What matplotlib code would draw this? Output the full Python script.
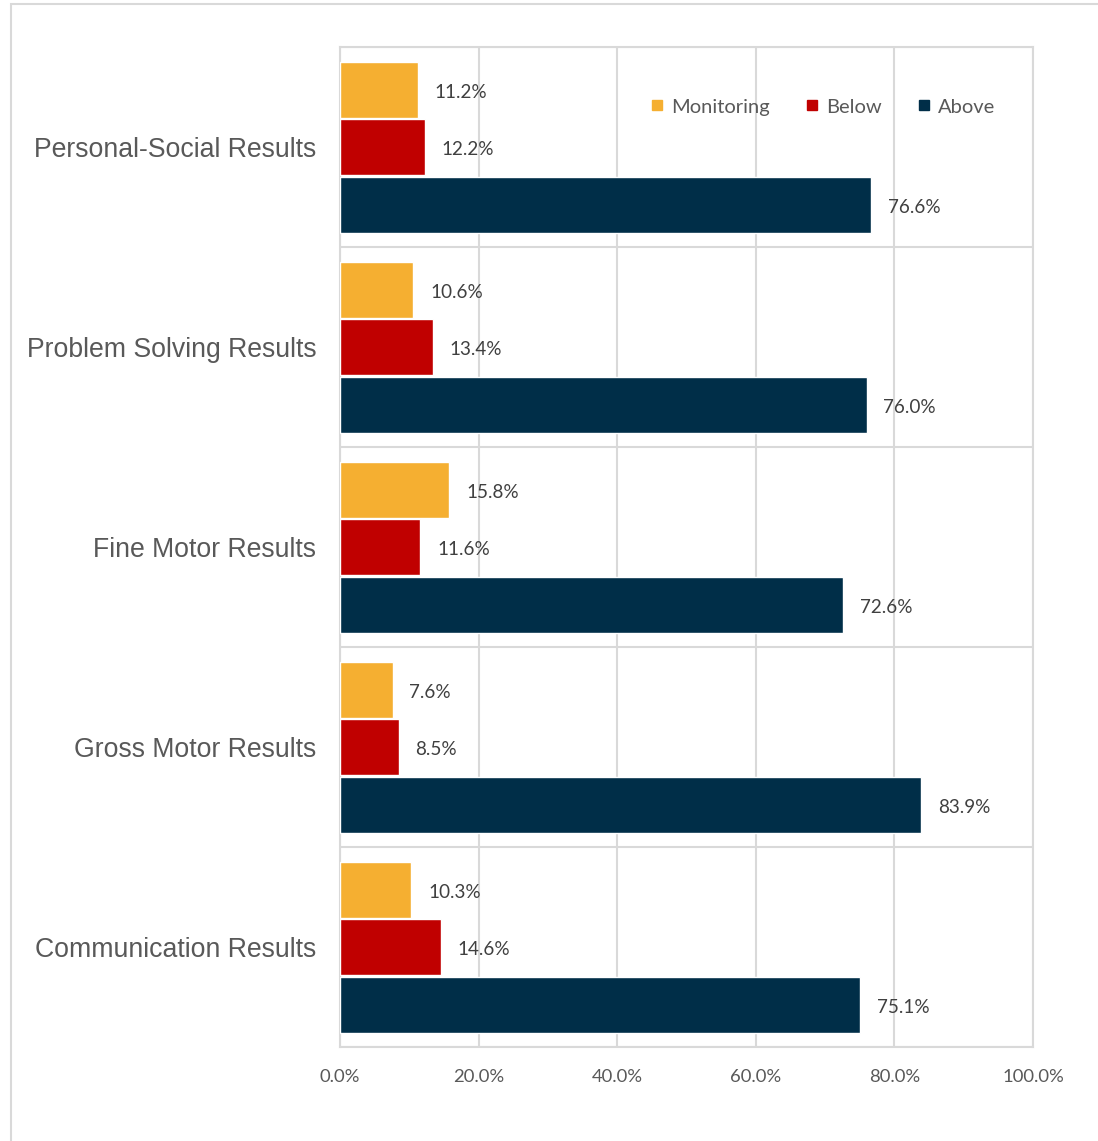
import matplotlib.pyplot as plt
from matplotlib.lines import Line2D
from matplotlib.patches import Rectangle
import numpy as np

categories = ['Personal-Social Results', 'Problem Solving Results', 'Fine Motor Results',
              'Gross Motor Results', 'Communication Results']
series_names = ['Monitoring', 'Below', 'Above']
monitoring = [11.2, 10.6, 15.8, 7.6, 10.3]
below = [12.2, 13.4, 11.6, 8.5, 14.6]
above = [76.6, 76.0, 72.6, 83.9, 75.1]
colors = ['#F5AF31', '#C00000', '#002E48']
x_ticks = [0, 20, 40, 60, 80, 100]

grid_color = '#D9D9D9'
text_color = '#595959'
label_font = 'Lato'

fig = plt.figure(figsize=(10.98, 11.41), dpi=100)
fig.patches.append(Rectangle((11 / 1098, -0.1), 1.2, (1141 - 4) / 1141 + 0.1,
                             transform=fig.transFigure, fill=False,
                             edgecolor=grid_color, linewidth=1.5))

ax = fig.add_axes([340 / 1098, 1 - 1047 / 1141, (1033 - 340) / 1098, 1000 / 1141])

y = np.arange(len(categories))
offset = 0.2875
bar_h = 0.28
for k, (vals, col) in enumerate(zip([monitoring, below, above], colors)):
    pos = y + (k - 1) * offset
    ax.barh(pos, vals, height=bar_h, color=col, edgecolor='white', linewidth=1.0, zorder=3)
    for p, v in zip(pos, vals):
        ax.annotate(f'{v:.1f}%', (v, p), xytext=(12, -2), textcoords='offset points',
                    ha='left', va='center', fontsize=13.6, color='#404040',
                    family=label_font, zorder=4)

ax.set_xlim(0, 100)
ax.set_ylim(len(categories) - 0.5, -0.5)
ax.set_xticks(x_ticks)
ax.set_xticklabels([f'{t:.1f}%' for t in x_ticks], family=label_font, fontsize=13.3, color=text_color)
ax.set_yticks(y)
ax.set_yticklabels(categories, family='Liberation Sans', fontsize=19.2, color=text_color)
ax.set_yticks(np.arange(len(categories) + 1) - 0.5, minor=True)
ax.tick_params(axis='both', which='both', length=0)
ax.tick_params(axis='y', pad=17)
ax.tick_params(axis='x', pad=16)

ax.grid(axis='x', which='major', color=grid_color, linewidth=1.5, zorder=0)
ax.grid(axis='y', which='minor', color=grid_color, linewidth=1.5, zorder=0)
for s in ax.spines.values():
    s.set_color(grid_color)
    s.set_linewidth(1.5)

handles = [Line2D([], [], marker='s', linestyle='none', markersize=7.5, color=c) for c in colors]
leg = ax.legend(handles, series_names, loc='center', bbox_to_anchor=(0.696, 0.940),
                ncol=3, frameon=False, handlelength=0.7, handletextpad=0.35, columnspacing=1.75,
                prop={'family': label_font, 'size': 14.5})
for t in leg.get_texts():
    t.set_color(text_color)

plt.savefig('out.png', dpi=100)
